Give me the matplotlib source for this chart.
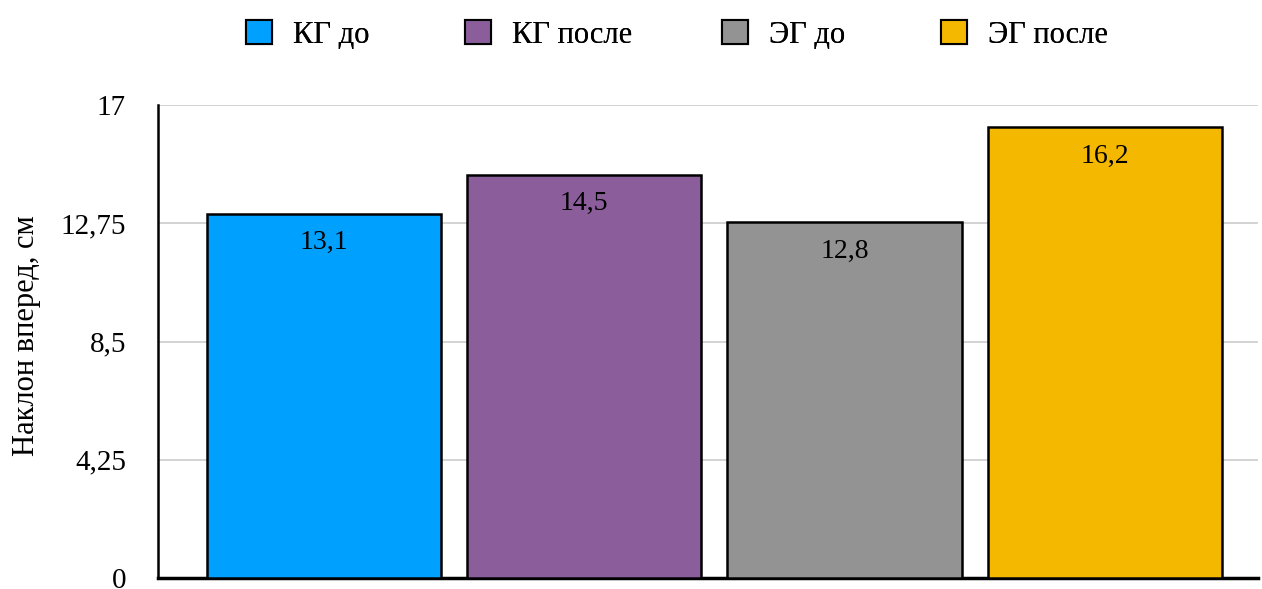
import matplotlib.pyplot as plt
from matplotlib.patches import Patch

plt.rcParams["font.family"] = ["Liberation Serif", "DejaVu Serif"]

# Группы и значения наклона вперед (см)
groups = ["КГ до", "КГ после", "ЭГ до", "ЭГ после"]
values = [13.1, 14.5, 12.8, 16.2]
colors = ["#00A0FF", "#8B5E9B", "#939393", "#F5B800"]
yticks = [0, 4.25, 8.5, 12.75, 17]

fig = plt.figure(figsize=(12.62, 5.89), dpi=100)
ax = fig.add_axes([0.1252, 0.0187, 0.8718, 0.803])

x = range(len(groups))
bars = ax.bar(x, values, width=0.9, color=colors, edgecolor="black",
              linewidth=1.8, zorder=3)

for b, v in zip(bars, values):
    ax.annotate(f"{v:.1f}".replace(".", ","),
                xy=(b.get_x() + b.get_width() / 2, v),
                xytext=(0, -12), textcoords="offset points",
                ha="center", va="top", fontsize=20, zorder=4)

ax.set_ylim(0, 17)
ax.set_xlim(-0.638, 3.59)
ax.set_yticks(yticks)
ax.set_yticklabels([f"{t:g}".replace(".", ",") for t in yticks], fontsize=21)
ax.set_xticks([])
ax.tick_params(axis="y", length=0, pad=23)
ax.yaxis.grid(True, color="#cccccc", linewidth=1.2, zorder=0)
ax.set_axisbelow(True)

for s in ["top", "right"]:
    ax.spines[s].set_visible(False)
ax.spines["left"].set_linewidth(1.8)
ax.spines["bottom"].set_linewidth(2.5)

ax.set_ylabel("Наклон вперед, см", fontsize=22)
ax.yaxis.set_label_coords(-0.106, 0.512)

# легенда: каждый элемент отдельно, чтобы задать позиции
legend_x = [0.1949, 0.3685, 0.5721, 0.7456]
for lx, c, g in zip(legend_x, colors, groups):
    h = Patch(facecolor=c, edgecolor="black", linewidth=1.5)
    leg = fig.legend([h], [g], loc="center left", bbox_to_anchor=(lx, 0.941),
                     frameon=False, fontsize=22, handlelength=0.85,
                     handleheight=0.85, handletextpad=0.7, borderpad=0,
                     borderaxespad=0)
    fig.add_artist(leg)

fig.savefig("out.png", dpi=100)
